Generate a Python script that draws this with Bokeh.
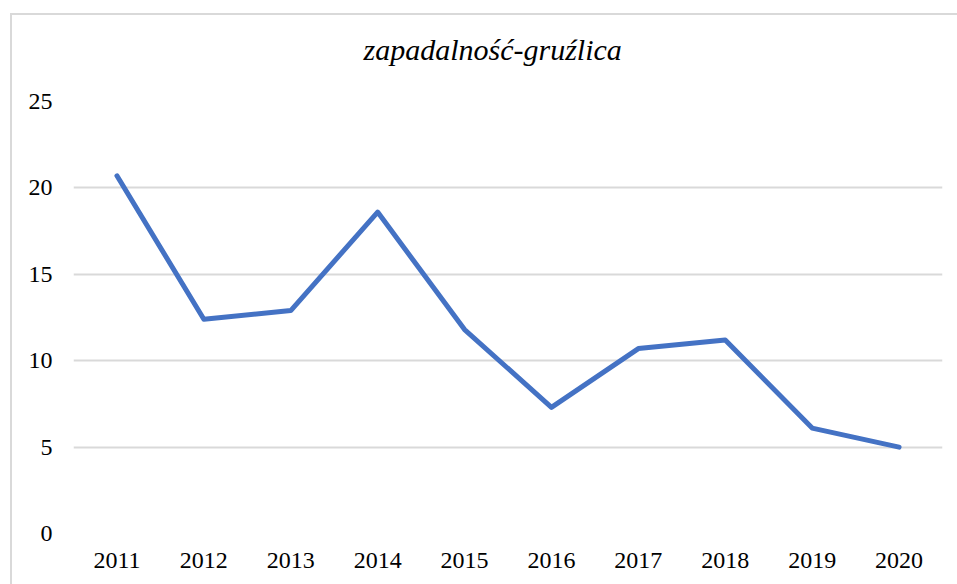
from bokeh.plotting import figure
from bokeh.models import Range1d, FixedTicker, Title
from bokeh.layouts import column
from bokeh.embed import file_html
from bokeh.resources import INLINE

years = ["2011", "2012", "2013", "2014", "2015", "2016", "2017", "2018", "2019", "2020"]
values = [20.7, 12.4, 12.9, 18.6, 11.8, 7.3, 10.7, 11.2, 6.1, 5.0]
y_ticks = [0, 5, 10, 15, 20, 25]
title_text = "zapadalność-gruźlica"

p = figure(x_range=years, y_range=Range1d(0, 25), width=945, height=569,
           output_backend="svg", toolbar_location=None,
           min_border_left=61, min_border_right=15, min_border_top=86, min_border_bottom=51)

# spacer between the plot area and the title
p.add_layout(Title(text=" ", text_font_size="1px", standoff=28), "above")

p.title.text = title_text
p.title.align = "left"
p.title.offset = 290
p.title.text_font = "Liberation Serif"
p.title.text_font_style = "italic"
p.title.text_font_size = "30px"
p.title.text_color = "#000000"
p.title.standoff = 10

p.line(years, values, line_color="#4472C4", line_width=5, line_join="round", line_cap="round")

p.outline_line_color = None
p.xgrid.grid_line_color = None
p.ygrid.grid_line_color = "#d9d9d9"
p.ygrid.grid_line_width = 2
p.yaxis.ticker = FixedTicker(ticks=y_ticks)

for ax in (p.xaxis[0], p.yaxis[0]):
    ax.axis_line_color = None
    ax.major_tick_line_color = None
    ax.minor_tick_line_color = None
    ax.major_tick_out = 0
    ax.major_tick_in = 0
    ax.minor_tick_out = 0
    ax.major_label_text_font = "Liberation Serif"
    ax.major_label_text_font_size = "24px"
    ax.major_label_text_color = "#000000"
p.yaxis.major_label_standoff = 21
p.xaxis.major_label_standoff = 19

layout = column(p, styles={"border-top": "2px solid #d9d9d9",
                           "border-left": "2px solid #d9d9d9"})
layout.margin = (13, 0, 0, 10)

open("out.html", "w").write(file_html(layout, INLINE))
